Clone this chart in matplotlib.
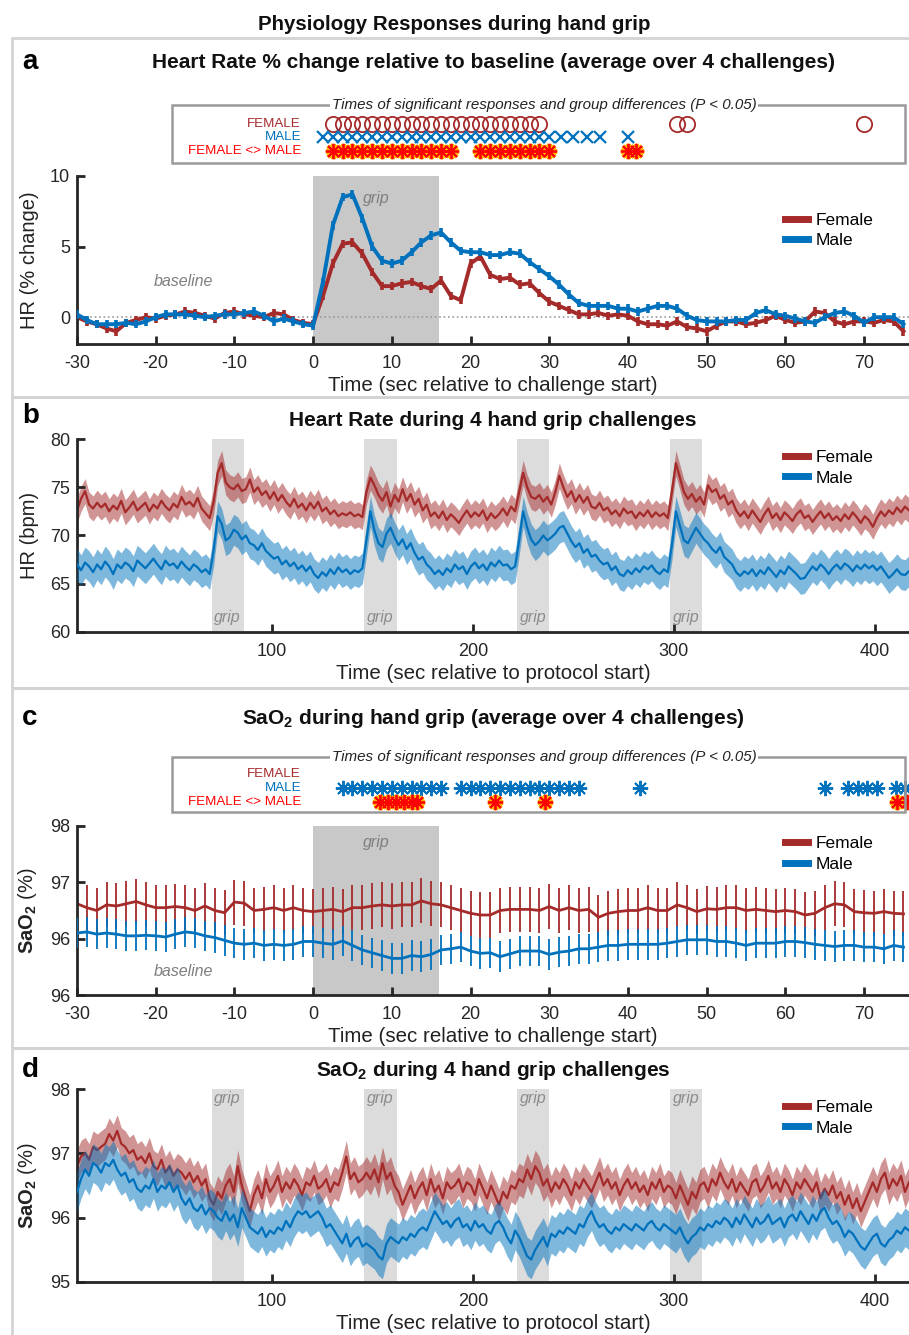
import numpy as np
import matplotlib
matplotlib.use('Agg')
import matplotlib.pyplot as plt
from matplotlib.patches import Rectangle
from matplotlib.lines import Line2D

plt.rcParams['font.family'] = ['Liberation Sans', 'DejaVu Sans']
plt.rcParams['mathtext.fontset'] = 'custom'
plt.rcParams['mathtext.rm'] = 'Liberation Sans'
plt.rcParams['mathtext.bf'] = 'Liberation Sans:bold'
plt.rcParams['mathtext.it'] = 'Liberation Sans:italic'
plt.rcParams['axes.unicode_minus'] = False

# ---------------- data ----------------
# Panel a / c : time relative to challenge start (s)
challenge_t = np.arange(-30, 75.01, 1.25)

hr_pct_female = [0.0, -0.3, -0.5, -0.8, -1.0, -0.4, -0.2, 0.0, -0.1, 0.1,
                 0.2, 0.4, 0.3, 0.1, -0.1, 0.3, 0.4, 0.2, 0.1, 0.0,
                 0.3, 0.2, -0.2, -0.4, -0.5, 1.5, 3.8, 5.2, 5.3, 4.5,
                 3.2, 2.2, 2.2, 2.4, 2.5, 2.2, 2.0, 2.6, 1.5, 1.2,
                 3.8, 4.3, 3.0, 2.7, 2.8, 2.3, 2.4, 1.7, 1.1, 0.8,
                 0.5, 0.2, 0.2, 0.3, 0.1, 0.2, 0.1, -0.3, -0.5, -0.5,
                 -0.6, -0.3, -0.7, -0.8, -1.0, -0.6, -0.3, -0.3, -0.5, -0.4,
                 -0.2, 0.1, -0.2, -0.4, -0.3, 0.4, 0.3, -0.3, -0.5, -0.3,
                 -0.3, -0.4, -0.2, -0.3, -1.0]
hr_pct_male = [0.2, -0.2, -0.5, -0.5, -0.5, -0.4, -0.5, -0.3, 0.0, 0.2,
               0.2, 0.2, 0.1, 0.0, 0.1, 0.2, 0.2, 0.3, 0.4, 0.1,
               -0.3, -0.1, -0.3, -0.5, -0.6, 2.5, 6.5, 8.5, 8.7, 7.0,
               5.0, 4.0, 3.8, 4.0, 4.6, 5.3, 5.8, 6.0, 5.3, 4.7,
               4.6, 4.6, 4.4, 4.4, 4.6, 4.5, 3.9, 3.4, 2.9, 2.3,
               1.6, 1.0, 0.8, 0.8, 0.8, 0.6, 0.6, 0.4, 0.6, 0.8,
               0.8, 0.6, 0.1, -0.2, -0.3, -0.3, -0.3, -0.2, -0.2, 0.3,
               0.5, 0.2, 0.1, -0.1, -0.3, -0.4, 0.0, 0.3, 0.4, 0.1,
               -0.4, 0.0, 0.0, 0.0, -0.5]
hr_pct_err_female = 0.3
hr_pct_err_male = 0.3

# significance times (panel a)
sig_a_female = [2.5, 3.75, 5, 6.25, 7.5, 8.75, 10, 11.25, 12.5, 13.75, 15,
                16.25, 17.5, 18.75, 20, 21.25, 22.5, 23.75, 25, 26.25, 27.5,
                28.75, 46.25, 47.5, 70]
sig_a_male = [1.25, 2.5, 3.75, 5, 6.25, 7.5, 8.75, 10, 11.25, 12.5, 13.75,
              15, 16.25, 17.5, 18.75, 20, 21.25, 22.5, 23.75, 25, 26.25,
              27.5, 28.75, 30, 31.5, 33, 34.75, 36.5, 40]
sig_a_diff = [2.5, 3.75, 5, 6.25, 7.5, 8.75, 10, 11.25, 12.5, 13.75, 15,
              16.25, 17.5, 21.25, 22.5, 23.75, 25, 26.25, 27.5, 28.75, 30,
              40, 41]

sao2_c_female = [96.62, 96.55, 96.5, 96.6, 96.58, 96.62, 96.66, 96.6, 96.55, 96.55,
                 96.57, 96.55, 96.5, 96.58, 96.5, 96.46, 96.65, 96.63, 96.5, 96.52,
                 96.55, 96.5, 96.55, 96.5, 96.48, 96.5, 96.52, 96.48, 96.55, 96.55,
                 96.58, 96.6, 96.58, 96.6, 96.6, 96.67, 96.62, 96.6, 96.55, 96.5,
                 96.45, 96.42, 96.42, 96.5, 96.52, 96.52, 96.52, 96.5, 96.57, 96.5,
                 96.55, 96.5, 96.52, 96.38, 96.45, 96.48, 96.5, 96.5, 96.55, 96.5,
                 96.5, 96.6, 96.55, 96.48, 96.53, 96.52, 96.55, 96.55, 96.5, 96.52,
                 96.5, 96.48, 96.5, 96.48, 96.42, 96.45, 96.55, 96.62, 96.6, 96.48,
                 96.46, 96.45, 96.48, 96.45, 96.44]
sao2_c_male = [96.1, 96.12, 96.08, 96.1, 96.08, 96.05, 96.05, 96.06, 96.05, 96.03,
               96.08, 96.12, 96.1, 96.05, 96.02, 95.97, 95.92, 95.9, 95.92, 95.88,
               95.9, 95.88, 95.9, 95.95, 95.95, 95.92, 95.9, 95.96, 95.88, 95.8,
               95.75, 95.7, 95.65, 95.65, 95.7, 95.68, 95.72, 95.8, 95.82, 95.85,
               95.78, 95.74, 95.75, 95.68, 95.73, 95.78, 95.78, 95.78, 95.72, 95.76,
               95.78, 95.82, 95.82, 95.85, 95.88, 95.88, 95.9, 95.9, 95.9, 95.9,
               95.92, 95.95, 95.98, 95.98, 95.98, 95.95, 95.95, 95.92, 95.88, 95.92,
               95.92, 95.92, 95.95, 95.95, 95.93, 95.9, 95.88, 95.86, 95.88, 95.88,
               95.85, 95.85, 95.82, 95.88, 95.85]
sao2_c_err_female = 0.4
sao2_c_err_male = 0.27

sig_c_female = []
sig_c_male = [3.75, 5, 6.25, 7.5, 8.75, 10, 11.25, 12.5, 13.75, 15, 16.25,
              18.75, 20, 21.25, 22.5, 23.75, 25, 26.25, 27.5, 28.75, 30,
              31.25, 32.5, 33.75, 41.5, 65, 68, 69.2, 70.4, 71.6, 74, 75.2]
sig_c_diff = [8.5, 9.5, 10.5, 11.5, 12.5, 13.25, 23.1, 29.5, 74.2, 75.4]

# Panels b / d : time relative to protocol start (s)
protocol_t = np.arange(3, 418, 2)
grip_starts = [70, 146, 222, 298]
grip_len = 16

hr_female = [72.6, 73.8, 74.6, 73.2, 72.8, 73.4, 72.9, 73.3, 72.5, 73.1,
             72.7, 73.6, 72.4, 72.9, 73.5, 72.6, 73.0, 73.4, 72.5, 73.2,
             72.8, 73.6, 73.0, 72.6, 73.3, 72.9, 74.0, 73.2, 73.5, 73.0,
             73.9, 72.8, 72.3, 71.8,
             73.5, 76.5, 77.5, 75.5, 75.0, 74.8, 75.3, 74.6, 74.8, 75.8,
             74.5, 75.0, 74.2, 74.6, 73.8, 74.5, 73.6, 74.2, 73.5, 73.0,
             73.8, 72.9, 73.3, 72.6, 73.4, 72.8, 73.5, 72.5, 72.9, 72.2,
             72.6, 72.0, 72.3, 72.1, 72.4, 72.0, 72.2, 71.9,
             74.5, 76.0, 75.2, 74.2, 73.6, 74.5, 73.0, 74.2, 73.5, 74.8,
             73.6, 74.3, 73.2, 73.8, 72.6, 73.2, 72.0, 72.4, 71.8, 72.5,
             71.6, 72.2, 71.8, 71.3, 72.0, 72.6, 71.9, 72.4, 72.0, 72.6,
             71.6, 72.3, 71.8, 72.2, 72.8, 72.1, 73.0, 72.5,
             74.5, 76.5, 75.0, 74.0, 73.8, 74.2, 73.5, 74.0, 73.2, 74.5,
             76.2, 75.0, 74.0, 74.6, 73.5, 74.2, 73.4, 74.0, 73.0, 72.8,
             73.4, 72.6, 72.9, 72.2, 72.6, 72.0, 72.8, 72.3, 72.5, 71.8,
             72.4, 72.0, 72.6, 71.9, 72.4, 72.0, 72.3, 71.8,
             74.5, 77.5, 76.0, 74.5, 73.8, 74.3, 73.5, 74.0, 73.2, 75.2,
             74.5, 74.8, 73.8, 74.2, 73.2, 73.6, 72.6, 72.0, 72.5, 71.8,
             72.6, 72.0, 71.4, 72.2, 72.8, 71.8, 72.3, 71.6, 72.4, 72.0,
             71.5, 72.2, 72.6, 71.8, 72.1, 71.4, 72.0, 72.5, 71.8, 72.3,
             71.6, 72.0, 71.5, 72.2, 71.7, 72.4, 71.9, 71.3, 72.0, 71.6,
             70.9, 71.8, 72.5, 72.0, 72.6, 72.2, 72.9, 72.4, 73.0, 72.6]
hr_male = [67.0, 66.4, 67.2, 66.8, 66.2, 67.0, 66.5, 67.3, 66.8, 66.0,
           67.0, 66.6, 67.2, 66.9, 66.3, 67.4, 67.0, 66.6, 67.1, 67.6,
           67.0, 66.5, 67.4, 66.9, 67.1, 66.6, 67.3, 66.8, 66.4, 67.0,
           66.7, 66.2, 66.5, 66.0,
           68.5, 72.0, 71.2, 69.5, 69.8, 70.6, 70.3, 69.6, 70.0, 69.2,
           69.0, 68.5, 69.2, 68.4, 68.0, 67.6, 67.8, 67.0, 67.4, 66.8,
           67.2, 66.5, 66.9, 66.3, 66.8, 66.0, 65.6, 66.2, 65.8, 66.5,
           66.0, 66.7, 66.2, 66.5, 66.0, 66.4, 66.2, 66.6,
           69.5, 72.5, 70.5, 69.2, 68.8, 70.2, 70.8, 69.8, 69.0, 69.6,
           68.6, 69.2, 68.2, 67.5, 67.8, 67.0, 66.6, 66.0, 66.4, 65.9,
           66.6, 66.2, 67.0, 66.5, 66.8, 66.0, 66.8, 67.2, 66.6, 67.0,
           66.4, 67.2, 66.8, 67.4, 66.9, 67.0, 66.5, 66.8,
           69.5, 72.5, 70.8, 69.6, 69.0, 69.4, 70.0, 69.5, 69.8, 70.2,
           70.8, 71.0, 70.2, 69.4, 68.8, 69.2, 68.2, 68.6, 67.8, 68.0,
           67.4, 67.0, 67.2, 66.4, 66.8, 66.0, 65.8, 66.4, 66.0, 66.6,
           66.2, 66.8, 66.5, 66.9, 66.3, 66.0, 66.5, 66.2,
           69.0, 72.5, 71.0, 69.5, 69.2, 70.0, 70.8, 70.2, 69.6, 69.2,
           68.6, 68.2, 68.8, 67.8, 67.4, 67.0, 66.2, 65.8, 66.3, 66.0,
           66.5, 65.8, 66.4, 66.0, 66.7, 66.2, 65.7, 66.4, 66.0, 66.8,
           66.4, 66.0, 65.5, 65.6, 66.2, 66.8, 66.4, 67.0, 66.6, 66.0,
           66.6, 67.0, 66.5, 67.1, 66.8, 66.3, 66.9, 66.5, 67.0, 66.6,
           66.9, 66.4, 66.8, 66.2, 65.6, 66.0, 66.5, 66.0, 65.9, 66.3]
hr_sem_female = 1.3
hr_sem_male = 1.6

sao2_female = [96.8, 96.95, 97.0, 96.9, 97.1, 97.05, 97.1, 97.15, 97.3, 97.2,
               97.35, 97.15, 97.1, 97.0, 97.05, 96.9, 96.95, 96.85, 97.0, 96.8,
               96.75, 96.9, 96.7, 96.8, 96.65, 96.75, 96.7, 96.6, 96.7, 96.55,
               96.65, 96.5, 96.6, 96.3,
               96.2, 96.4, 96.3, 96.5, 96.6, 96.4, 96.8, 96.5, 96.3, 96.1,
               96.35, 96.5, 96.3, 96.6, 96.4, 96.5, 96.65, 96.4, 96.55, 96.45,
               96.6, 96.5, 96.35, 96.55, 96.5, 96.65, 96.45, 96.5, 96.6, 96.4,
               96.55, 96.5, 96.7, 96.95, 96.6, 96.7, 96.55, 96.6,
               96.7, 96.6, 96.75, 96.55, 96.85, 96.6, 96.7, 96.5, 96.4, 96.2,
               96.35, 96.5, 96.3, 96.45, 96.55, 96.35, 96.6, 96.4, 96.5, 96.3,
               96.55, 96.45, 96.5, 96.6, 96.4, 96.55, 96.5, 96.35, 96.6, 96.45,
               96.3, 96.5, 96.35, 96.2, 96.4, 96.3, 96.5, 96.45,
               96.6, 96.55, 96.75, 96.6, 96.8, 96.7, 96.5, 96.6, 96.4, 96.55,
               96.45, 96.6, 96.5, 96.35, 96.55, 96.45, 96.6, 96.5, 96.4, 96.55,
               96.7, 96.5, 96.6, 96.45, 96.55, 96.35, 96.5, 96.6, 96.45, 96.55,
               96.4, 96.5, 96.35, 96.55, 96.45, 96.6, 96.4, 96.5,
               96.45, 96.3, 96.5, 96.35, 96.2, 96.4, 96.3, 96.5, 96.55, 96.4,
               96.6, 96.5, 96.7, 96.55, 96.45, 96.6, 96.4, 96.55, 96.45, 96.35,
               96.55, 96.6, 96.4, 96.5, 96.65, 96.45, 96.55, 96.4, 96.6, 96.5,
               96.35, 96.55, 96.45, 96.6, 96.5, 96.4, 96.55, 96.3, 96.45, 96.35,
               96.5, 96.3, 96.4, 96.2, 96.35, 96.15, 96.3, 96.1, 96.25, 96.4,
               96.55, 96.4, 96.6, 96.7, 96.45, 96.6, 96.5, 96.65, 96.4, 96.55]
sao2_male = [96.4, 96.6, 96.75, 96.65, 96.85, 96.8, 96.7, 96.85, 96.8, 96.9,
             96.75, 96.65, 96.7, 96.55, 96.6, 96.45, 96.4, 96.5, 96.45, 96.6,
             96.4, 96.5, 96.45, 96.55, 96.4, 96.5, 96.3, 96.2, 96.3, 96.15,
             96.1, 96.2, 96.05, 96.15,
             96.1, 96.0, 95.95, 96.1, 95.95, 96.05, 95.85, 96.15, 96.0, 95.85,
             95.8, 95.75, 95.85, 95.7, 95.8, 95.75, 95.85, 95.8, 95.95, 95.85,
             96.0, 96.1, 96.05, 96.1, 96.0, 96.05, 96.1, 96.0, 95.85, 95.9,
             95.8, 95.7, 95.6, 95.75, 95.55, 95.65, 95.7, 95.55,
             95.6, 95.55, 95.5, 95.4, 95.35, 95.6, 95.7, 95.65, 95.6, 95.7,
             95.65, 95.75, 95.7, 95.8, 95.85, 95.8, 95.95, 96.1, 96.0, 95.9,
             95.95, 95.85, 95.95, 96.0, 95.85, 95.9, 95.8, 95.95, 95.85, 95.9,
             95.8, 95.75, 95.9, 95.95, 95.85, 95.7, 95.6, 95.8,
             95.7, 95.55, 95.4, 95.35, 95.5, 95.6, 95.7, 95.55, 95.75, 95.7,
             95.8, 95.75, 95.85, 95.8, 95.75, 95.9, 95.85, 96.0, 96.1, 95.95,
             95.85, 95.9, 95.8, 95.75, 95.85, 95.8, 95.9, 95.85, 95.8, 95.9,
             95.85, 95.8, 95.9, 95.95, 95.85, 95.8, 95.9, 95.85,
             95.8, 95.75, 95.85, 95.7, 95.6, 95.7, 95.75, 95.85, 95.8, 95.9,
             95.85, 95.95, 95.9, 96.0, 95.95, 95.85, 96.0, 95.9, 96.05, 95.95,
             95.85, 96.0, 95.9, 95.95, 96.05, 95.9, 95.95, 96.0, 95.85, 96.0,
             96.05, 95.95, 96.1, 96.0, 95.9, 96.05, 95.95, 96.1, 96.15, 96.0,
             95.9, 95.95, 95.85, 95.7, 95.8, 95.75, 95.65, 95.55, 95.5, 95.6,
             95.7, 95.75, 95.6, 95.55, 95.65, 95.7, 95.8, 95.75, 95.85, 95.8]
sao2_sem_female = 0.25
sao2_sem_male = 0.3

# ---------------- style ----------------
W, H = 909, 1335
FEM = '#A52A2A'
MAL = '#0072BD'
DIFF = '#FF0000'
AX_C = '#262626'
GRIP_DARK = '#C8C8C8'
GRIP_LIGHT = '#DCDCDC'
TITLE_FS = 15

fig = plt.figure(figsize=(W / 100, H / 100), dpi=100)


def fx(px):
    return px / W


def fy(py):
    return 1 - py / H


def axpos(l, t, r, b):
    return [l / W, 1 - b / H, (r - l) / W, (b - t) / H]


# panel frames
for top, bot in [(38, 397), (397, 688), (688, 1048), (1048, 1345)]:
    fig.add_artist(Rectangle((fx(12), fy(bot)), fx(930) - fx(12), fy(top) - fy(bot),
                             transform=fig.transFigure, fill=False,
                             ec='#D4D4D4', lw=2, zorder=0))

fig.text(0.5, fy(24), 'Physiology Responses during hand grip', ha='center',
         va='center', fontsize=14.8, fontweight='bold', color='#111111')

for lab, py in [('a', 62), ('b', 416), ('c', 718), ('d', 1070)]:
    fig.text(fx(22), fy(py), lab, ha='left', va='center', fontsize=20,
             fontweight='bold', color='black')


def style(ax):
    for s in ['top', 'right']:
        ax.spines[s].set_visible(False)
    for s in ['left', 'bottom']:
        ax.spines[s].set_linewidth(2)
        ax.spines[s].set_color(AX_C)
    ax.tick_params(direction='in', length=6, width=2, color=AX_C,
                   labelsize=13, labelcolor=AX_C)
    ax.tick_params(axis='x', pad=8)
    ax.tick_params(axis='y', pad=5)


def legend(ax, by):
    hs = [Line2D([], [], color=FEM, lw=5), Line2D([], [], color=MAL, lw=5)]
    ax.legend(hs, ['Female', 'Male'], loc='upper left',
              bbox_to_anchor=((785 - 77) / 832, by), frameon=False,
              fontsize=12.5, handlelength=1.3, handletextpad=0.45,
              borderpad=0, borderaxespad=0, labelspacing=0.3)


def sig_strip(top, bot, rows, f_t, m_t, d_t, male_marker):
    fig.add_artist(Rectangle((fx(172), fy(bot)), fx(905) - fx(172), fy(top) - fy(bot),
                             transform=fig.transFigure, fill=False,
                             ec='#9A9A9A', lw=1.8, zorder=1))
    fig.text(fx(544), fy(top), 'Times of significant responses and group differences (P < 0.05)',
             ha='center', va='center', style='italic', fontsize=10.9, color='#222222',
             bbox=dict(fc='white', ec='none', pad=1.5), zorder=3)
    for txt, col, py in zip(['FEMALE', 'MALE', 'FEMALE <> MALE'], [FEM, MAL, DIFF], rows):
        fig.text(fx(301), fy(py), txt, ha='right', va='center', fontsize=9.6, color=col)
    sa = fig.add_axes(axpos(77, top, 909, bot))
    sa.set_xlim(-30, 75.7)
    sa.set_ylim(bot, top)
    sa.axis('off')
    if f_t:
        sa.plot(f_t, [rows[0]] * len(f_t), ls='none', marker='o', ms=11, mfc='none',
                mec=FEM, mew=1.3, clip_on=False)
    if male_marker == 'x':
        sa.plot(m_t, [rows[1]] * len(m_t), ls='none', marker='x', ms=9, mec=MAL,
                mew=1.6, clip_on=False)
    else:
        sa.plot(m_t, [rows[1]] * len(m_t), ls='none', marker=(8, 2, 0), ms=11, mec=MAL,
                mew=1.4, clip_on=False)
    sa.plot(d_t, [rows[2]] * len(d_t), ls='none', marker=(8, 2, 0), ms=11,
            mec='#FFB000', mew=3.2, clip_on=False)
    sa.plot(d_t, [rows[2]] * len(d_t), ls='none', marker=(8, 2, 0), ms=11,
            mec=DIFF, mew=1.3, clip_on=False)


def xlab(ax, txt):
    ax.set_xlabel(txt, fontsize=14.8, color='#222222', labelpad=3)


def ylab(ax, txt):
    ax.set_ylabel(txt, fontsize=14.5, color='#222222', labelpad=8)


# ---------------- panel a ----------------
fig.text(fx(493), fy(62), 'Heart Rate % change relative to baseline (average over 4 challenges)',
         ha='center', va='center', fontsize=TITLE_FS, fontweight='bold', color='#111111')
sig_strip(105, 163, [124, 137, 151], sig_a_female, sig_a_male, sig_a_diff, 'x')

ax = fig.add_axes(axpos(77, 176, 909, 344))
style(ax)
ax.set_xlim(-30, 75.7)
ax.set_ylim(-1.9, 10)
ax.axvspan(0, grip_len, color=GRIP_DARK, lw=0, zorder=0)
ax.axhline(0, color='#9A9A9A', ls=':', lw=1.2, zorder=1)
ax.errorbar(challenge_t, hr_pct_female, yerr=hr_pct_err_female, color=FEM, lw=2.8,
            elinewidth=2.6, capsize=0, zorder=2)
ax.errorbar(challenge_t, hr_pct_male, yerr=hr_pct_err_male, color=MAL, lw=2.8,
            elinewidth=2.6, capsize=0, zorder=3)
ax.set_xticks(np.arange(-30, 71, 10))
ax.set_yticks([0, 5, 10])
xlab(ax, 'Time (sec relative to challenge start)')
ylab(ax, 'HR (% change)')
ax.text(8, 8.4, 'grip', ha='center', va='center', style='italic', color='#7F7F7F', fontsize=11.5)
ax.text(-16.5, 2.5, 'baseline', ha='center', va='center', style='italic', color='#7F7F7F', fontsize=11.5)
legend(ax, 0.78)

# ---------------- panel b ----------------
fig.text(fx(493), fy(420), 'Heart Rate during 4 hand grip challenges',
         ha='center', va='center', fontsize=TITLE_FS, fontweight='bold', color='#111111')
ax = fig.add_axes(axpos(77, 439, 909, 632))
style(ax)
ax.set_xlim(3, 417)
ax.set_ylim(60, 80)
for g in grip_starts:
    ax.axvspan(g, g + grip_len, color=GRIP_LIGHT, lw=0, zorder=0)
    ax.text(g + grip_len / 2, 61.5, 'grip', ha='center', va='center', style='italic',
            color='#8C8C8C', fontsize=11.5)
ax.fill_between(protocol_t, np.array(hr_female) - hr_sem_female,
                np.array(hr_female) + hr_sem_female, color=FEM, alpha=0.5, lw=0, zorder=1)
ax.plot(protocol_t, hr_female, color=FEM, lw=1.6, zorder=2)
ax.fill_between(protocol_t, np.array(hr_male) - hr_sem_male,
                np.array(hr_male) + hr_sem_male, color=MAL, alpha=0.5, lw=0, zorder=3)
ax.plot(protocol_t, hr_male, color=MAL, lw=1.6, zorder=4)
ax.set_xticks([100, 200, 300, 400])
ax.set_yticks([60, 65, 70, 75, 80])
xlab(ax, 'Time (sec relative to protocol start)')
ylab(ax, 'HR (bpm)')
legend(ax, 0.943)

# ---------------- panel c ----------------
fig.text(fx(493), fy(719), r'SaO$_\mathbf{2}$ during hand grip (average over 4 challenges)',
         ha='center', va='center', fontsize=TITLE_FS, fontweight='bold', color='#111111')
sig_strip(757, 812, [774, 788, 802], sig_c_female, sig_c_male, sig_c_diff, '*')

ax = fig.add_axes(axpos(77, 826, 909, 995))
style(ax)
ax.set_xlim(-30, 75.7)
ax.set_ylim(95, 98)
ax.axvspan(0, grip_len, color=GRIP_DARK, lw=0, zorder=0)
ax.errorbar(challenge_t, sao2_c_female, yerr=sao2_c_err_female, color=FEM, lw=2,
            elinewidth=1.3, capsize=0, zorder=2)
ax.errorbar(challenge_t, sao2_c_male, yerr=sao2_c_err_male, color=MAL, lw=2,
            elinewidth=1.3, capsize=0, zorder=3)
ax.set_xticks(np.arange(-30, 71, 10))
ax.set_yticks([95, 96, 97, 98])
ax.set_yticklabels(['96', '96', '97', '98'])
xlab(ax, 'Time (sec relative to challenge start)')
ylab(ax, r'$\mathbf{SaO_2}$ (%)')
ax.text(8, 97.7, 'grip', ha='center', va='center', style='italic', color='#7F7F7F', fontsize=11.5)
ax.text(-16.5, 95.42, 'baseline', ha='center', va='center', style='italic', color='#7F7F7F', fontsize=11.5)
legend(ax, 0.94)

# ---------------- panel d ----------------
fig.text(fx(493), fy(1071), r'SaO$_\mathbf{2}$ during 4 hand grip challenges',
         ha='center', va='center', fontsize=TITLE_FS, fontweight='bold', color='#111111')
ax = fig.add_axes(axpos(77, 1089, 909, 1282))
style(ax)
ax.set_xlim(3, 417)
ax.set_ylim(95, 98)
for g in grip_starts:
    ax.axvspan(g, g + grip_len, color=GRIP_LIGHT, lw=0, zorder=0)
    ax.text(g + grip_len / 2, 97.86, 'grip', ha='center', va='center', style='italic',
            color='#8C8C8C', fontsize=11.5)
ax.fill_between(protocol_t, np.array(sao2_female) - sao2_sem_female,
                np.array(sao2_female) + sao2_sem_female, color=FEM, alpha=0.5, lw=0, zorder=1)
ax.plot(protocol_t, sao2_female, color=FEM, lw=1.6, zorder=2)
ax.fill_between(protocol_t, np.array(sao2_male) - sao2_sem_male,
                np.array(sao2_male) + sao2_sem_male, color=MAL, alpha=0.5, lw=0, zorder=3)
ax.plot(protocol_t, sao2_male, color=MAL, lw=1.6, zorder=4)
ax.set_xticks([100, 200, 300, 400])
ax.set_yticks([95, 96, 97, 98])
xlab(ax, 'Time (sec relative to protocol start)')
ylab(ax, r'$\mathbf{SaO_2}$ (%)')
legend(ax, 0.943)

fig.savefig('out.png', dpi=100)
